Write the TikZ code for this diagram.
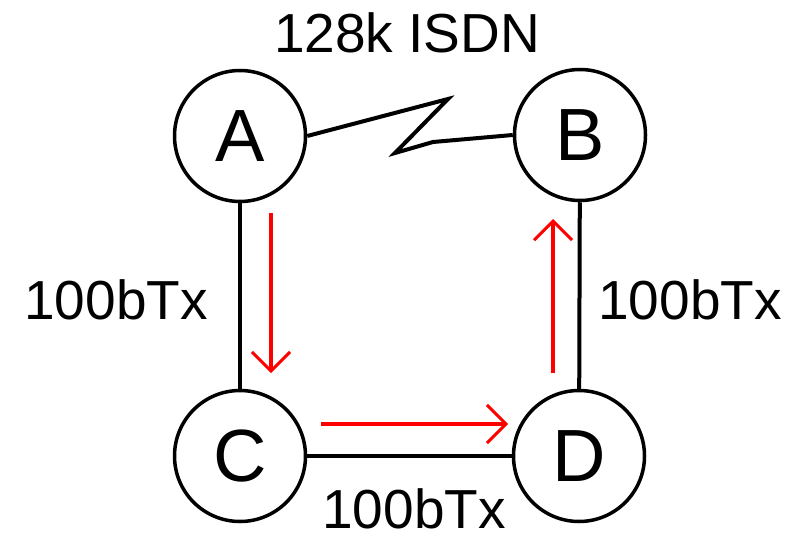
\documentclass[tikz,border=0pt]{standalone}
\usepackage{fontspec}
\setmainfont{Liberation Sans}
\usetikzlibrary{arrows.meta}

\begin{document}
\begin{tikzpicture}[x=1pt, y=-1pt,
  site/.style={draw, circle, line width=3.5pt, minimum size=131pt, inner sep=0pt,
               font=\fontsize{74}{80}\selectfont},
  link/.style={line width=4pt},
  flow/.style={red, line width=4pt, -{Straight Barb[length=19pt,width=38pt,line width=3pt]}},
  speed/.style={font=\fontsize{55}{60}\selectfont, inner sep=0pt}]
\useasboundingbox (0,0) rectangle (800,535);

% ---- the four sites ------------------------------------------------------
\node[site] (A) at (240,136) {A};
\node[site] (B) at (580,135) {B};
\node[site] (C) at (240,456) {C};
\node[site] (D) at (579,456) {D};

% ---- links ---------------------------------------------------------------
\draw[link] (A) -- (C);
\draw[link] (B) -- (D);
\draw[link] (C) -- (D);
\coordinate (z1) at (448,99);
\coordinate (z2) at (395,153);
\coordinate (z3) at (433,142);
\draw[link, line join=miter] (A.east) -- (z1) -- (z2) -- (z3) -- (B.west);

% ---- link labels ---------------------------------------------------------
\node[speed] (isdn) at (407,33) {128k ISDN};
\node[speed] (lac)  at (116,300) {100bTx};
\node[speed] (lbd)  at (690,300) {100bTx};
\node[speed] (lcd)  at (414,509) {100bTx};

% ---- traffic path --------------------------------------------------------
\coordinate (p1) at (271,213); \coordinate (p2) at (271,373);
\coordinate (p3) at (321,424); \coordinate (p4) at (508,424);
\coordinate (p5) at (553,373); \coordinate (p6) at (553,219);
\draw[flow] (p1) -- (p2);
\draw[flow] (p3) -- (p4);
\draw[flow] (p5) -- (p6);
\end{tikzpicture}
\end{document}
